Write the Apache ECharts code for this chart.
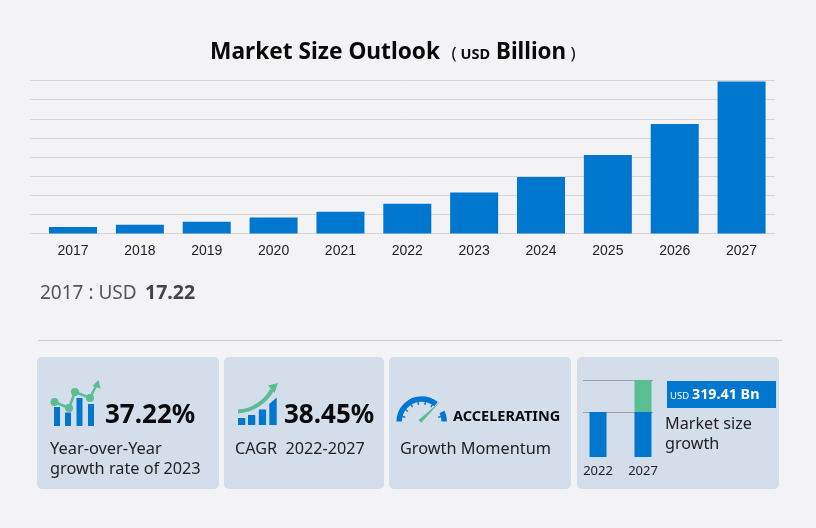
<!DOCTYPE html>
<html lang="en">
<head>
    <meta charset="UTF-8">
    <title>Market Size Outlook</title>
    <script src="https://cdn.jsdelivr.net/npm/echarts@6/dist/echarts.min.js"></script>
    <style>
        html, body { margin: 0; padding: 0; background: #f3f3f6; }
        #bar { width: 816px; height: 528px; }
    </style>
</head>
<body>
    <div id="bar"></div>

    <script>
        // values
        const years = ['2017', '2018', '2019', '2020', '2021', '2022', '2023', '2024', '2025', '2026', '2027'];
        const marketSize = [17.22, 23, 31, 42, 57, 78, 107, 148, 205, 286, 397.5];
        const miniYears = ['2022', '2027'];
        const miniBase = [45, 45];
        const miniGrowth = [0, 32];

        const BLUE = '#0077cf';
        const GREEN = '#5bbd94';
        const CARD = '#d4deea';
        const SANS = '"Noto Sans", sans-serif';

        function label(x, y, text, size, weight, color, font) {
            return {
                type: 'text', x: x, y: y,
                style: {
                    text: text, fontSize: size, fontWeight: weight || 'normal',
                    fill: color || '#222', fontFamily: font || SANS,
                    verticalAlign: 'middle', textAlign: 'left'
                }
            };
        }
        function box(x, y, w, h, color, r) {
            return { type: 'rect', z: -1, shape: { x: x, y: y, width: w, height: h, r: r || 0 }, style: { fill: color } };
        }
        function stroke(points, color, width) {
            return { type: 'polyline', shape: { points: points }, style: { stroke: color, lineWidth: width, fill: null } };
        }
        function dot(x, y) {
            return { type: 'circle', shape: { cx: x, cy: y, r: 4 }, style: { fill: GREEN } };
        }
        function tri(points, color) {
            return { type: 'polygon', shape: { points: points }, style: { fill: color } };
        }
        function arc(r, a, b, width, color) {
            return {
                type: 'arc',
                shape: { cx: 421.7, cy: 421.5, r: r, startAngle: a * Math.PI, endAngle: b * Math.PI },
                style: { stroke: color, lineWidth: width, fill: null }
            };
        }

        const decor = [
            // cards and separator
            box(37, 357, 182, 132, CARD, 5),
            box(224, 357, 160, 132, CARD, 5),
            box(389, 357, 182, 132, CARD, 5),
            box(577, 357, 202, 132, CARD, 5),
            { type: 'line', shape: { x1: 38, y1: 340.5, x2: 782, y2: 340.5 }, style: { stroke: '#c6c9da', lineWidth: 1 } },

            // title
            label(210, 53, 'Market Size Outlook', 22.7, 'bold', '#0a0a0a'),
            label(451.5, 54, '(', 17, 'normal', '#0a0a0a'),
            label(460.5, 55, 'USD', 14.5, 'bold', '#0a0a0a'),
            label(496, 53, 'Billion', 22.4, 'bold', '#0a0a0a'),
            label(570.5, 54, ')', 17, 'normal', '#0a0a0a'),

            label(40, 294, '2017 : USD', 19, 'normal', '#555'),
            label(145, 293, '17.22', 19.5, 'bold', '#444'),

            // card 1 icon
            box(54, 407, 6, 19, BLUE), box(65, 412.5, 6, 13.5, BLUE),
            box(76.5, 398, 6, 28, BLUE), box(88, 404, 6, 22, BLUE),
            stroke([[54.5, 402], [69, 408], [75, 392], [90, 398], [97, 384]], GREEN, 2.5),
            dot(54.5, 402), dot(69, 408), dot(75, 392), dot(90, 398),
            tri([[98.5, 380], [92.5, 386], [100.5, 388.5]], GREEN),
            label(105, 416, '37.22%', 26, 'bold', '#0a0a0a'),
            label(50, 449, 'Year-over-Year', 16.4),
            label(50, 469, 'growth rate of 2023', 16.3),

            // card 2 icon
            box(238, 418, 7.3, 7, BLUE), box(248, 415, 7.3, 10, BLUE),
            box(258.8, 409.5, 7.3, 15.5, BLUE),
            tri([[269.3, 425], [276.7, 425], [276.7, 397.5], [269.3, 404]], BLUE),
            { type: 'bezierCurve', shape: { x1: 238, y1: 411.5, x2: 272, y2: 390, cpx1: 253, cpy1: 411, cpx2: 266, cpy2: 401 }, style: { stroke: GREEN, lineWidth: 4, fill: null } },
            tri([[278, 383], [268, 385.5], [274.5, 393]], GREEN),
            label(284, 416, '38.45%', 26, 'bold', '#0a0a0a'),
            label(235, 449, 'CAGR  2022-2027', 16.2),

            // card 3 gauge icon
            arc(22.5, 1, 1.72, 5.5, BLUE),
            arc(22.5, 1.86, 2, 5.5, BLUE),
            tri([[418.5, 420], [421, 423], [440.5, 401.5]], GREEN),
            label(453, 416.5, 'ACCELERATING', 14.5, 'bold', '#0a0a0a'),
            label(400, 449.5, 'Growth Momentum', 16.3),

            // card 4
            { type: 'line', shape: { x1: 583, y1: 380.5, x2: 653, y2: 380.5 }, style: { stroke: '#8fa0b0', lineWidth: 1 } },
            { type: 'line', shape: { x1: 583, y1: 412.5, x2: 653, y2: 412.5 }, style: { stroke: '#8fa0b0', lineWidth: 1 } },
            box(667, 381, 109, 27, BLUE),
            label(670, 396, 'USD', 9.5, 'normal', '#fff'),
            label(692, 394.5, '319.41 Bn', 14.3, 'bold', '#fff'),
            label(665, 424.5, 'Market size', 16.2),
            label(665, 444.5, 'growth', 16.2)
        ];

        // gauge tick marks
        [1.08, 1.2, 1.32, 1.44, 1.56, 1.68, 1.92].forEach(function (a) {
            const t = a * Math.PI;
            decor.push(stroke([
                [421.7 + 20 * Math.cos(t), 421.5 + 20 * Math.sin(t)],
                [421.7 + 17 * Math.cos(t), 421.5 + 17 * Math.sin(t)]
            ], BLUE, 1.4));
        });

        const myecharts = echarts.init(document.getElementById('bar'));

        const option = {
            backgroundColor: '#f3f3f6',
            animation: false,
            graphic: { elements: decor },
            grid: [
                // wider grid only carries the horizontal rules
                { left: 30, right: 41, top: 80.5, height: 153 },
                { left: 39.6, right: 41, top: 80.5, height: 153 },
                { left: 575.5, top: 380, width: 90, height: 77 }
            ],
            xAxis: [
                { gridIndex: 0, type: 'category', data: years, show: false },
                {
                    gridIndex: 1, type: 'category', data: years,
                    axisLine: { show: false }, axisTick: { show: false },
                    axisLabel: { color: '#222', fontSize: 14, fontFamily: '"Liberation Sans", Arial', margin: 11 }
                },
                {
                    gridIndex: 2, type: 'category', data: miniYears,
                    axisLine: { show: false }, axisTick: { show: false },
                    axisLabel: { color: '#222', fontSize: 13, fontFamily: SANS, margin: 8 }
                }
            ],
            yAxis: [
                {
                    gridIndex: 0, type: 'value', min: 0, max: 400, interval: 50,
                    axisLabel: { show: false }, axisLine: { show: false }, axisTick: { show: false },
                    splitLine: { lineStyle: { color: '#d4d6dc', width: 1 } }
                },
                { gridIndex: 1, type: 'value', min: 0, max: 400, interval: 50, show: false },
                { gridIndex: 2, type: 'value', min: 0, max: 77, show: false }
            ],
            series: [
                {
                    type: 'bar', xAxisIndex: 1, yAxisIndex: 1, data: marketSize,
                    barWidth: 48, itemStyle: { color: BLUE }
                },
                {
                    type: 'bar', xAxisIndex: 2, yAxisIndex: 2, stack: 'mini', data: miniBase,
                    barWidth: 17, itemStyle: { color: BLUE }
                },
                {
                    type: 'bar', xAxisIndex: 2, yAxisIndex: 2, stack: 'mini', data: miniGrowth,
                    barWidth: 17, itemStyle: { color: GREEN }
                }
            ]
        };

        myecharts.setOption(option);
    </script>
</body>
</html>
